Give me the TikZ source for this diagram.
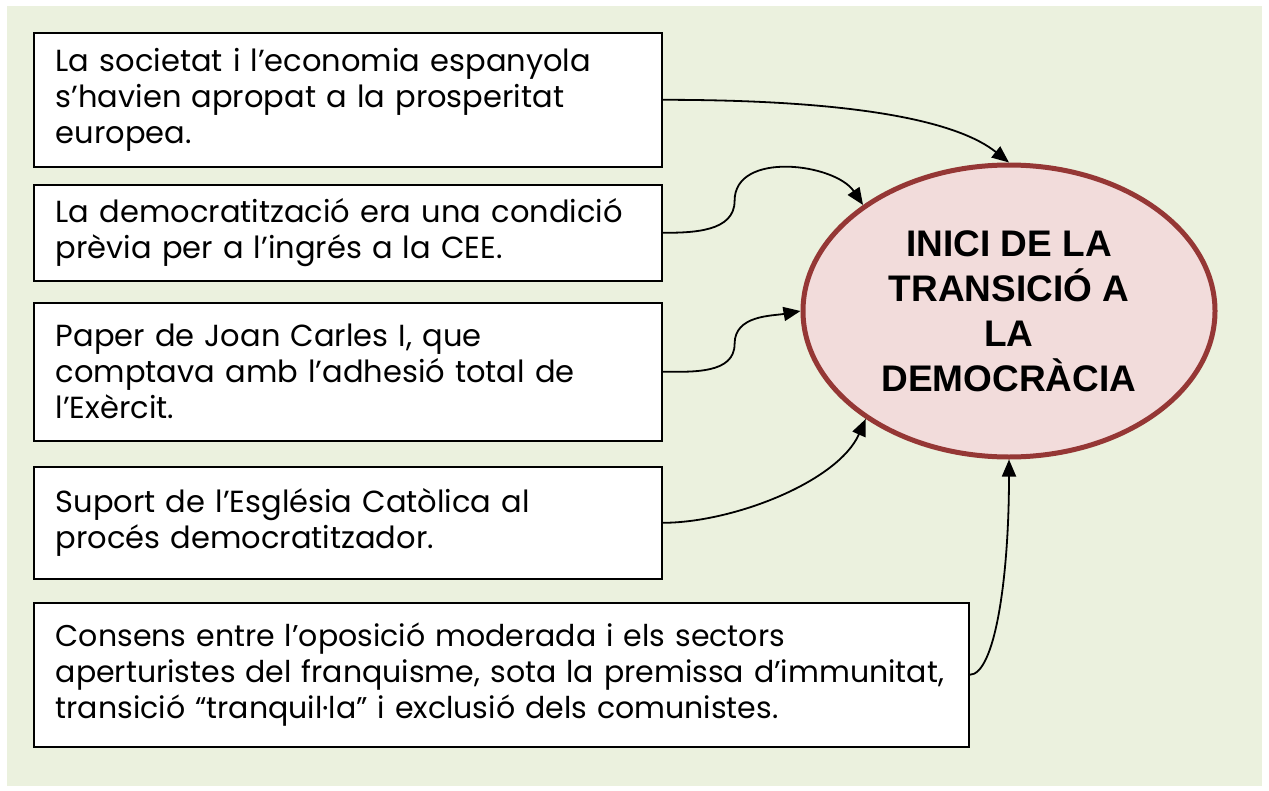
\documentclass[tikz,border=0pt]{standalone}
\usepackage{fontspec}
\setmainfont{Poppins}
\newfontfamily\headfont{Liberation Sans}
\usetikzlibrary{shapes.geometric,arrows.meta}

\definecolor{bggreen}{HTML}{EBF1DE}
\definecolor{goalfill}{HTML}{F2DCDB}
\definecolor{goaldraw}{HTML}{953735}

\begin{document}
\begin{tikzpicture}[x=1pt,y=1pt,
  cause/.style={draw=black,line width=1.6pt,fill=white,anchor=north west,
    inner xsep=22pt,inner ysep=0pt,align=left,
    font=\fontsize{30.5}{36}\selectfont},
  link/.style={draw=black,line width=1.8pt,-{Triangle[length=17pt,width=14pt]}}]
\useasboundingbox (0,0) rectangle (1269,-790);
\fill [bggreen] (7,-6) rectangle (1262,-786);
% the causes
\node [cause,text width=584pt,minimum height=134pt] (soc) at (33,-32)
  {La societat i l’economia espanyola\\s’havien apropat a la prosperitat\\europea.};
\node [cause,text width=584pt,minimum height=96pt] (cee) at (33,-184)
  {La democratització era una condició\\prèvia per a l’ingrés a la CEE.};
\node [cause,text width=584pt,minimum height=138pt] (rei) at (33,-302)
  {Paper de Joan Carles I, que\\comptava amb l’adhesió total de\\l’Exèrcit.};
\node [cause,text width=584pt,minimum height=112pt] (esg) at (33,-466)
  {Suport de l’Església Catòlica al\\procés democratitzador.};
\node [cause,text width=891pt,minimum height=144pt,font=\fontsize{30}{36}\selectfont] (cons) at (33,-602)
  {Consens entre l’oposició moderada i els sectors\\aperturistes del franquisme, sota la premissa d’immunitat,\\transició “tranquil·la” i exclusió dels comunistes.};
% the result
\node [ellipse,draw=goaldraw,fill=goalfill,line width=5pt,
  minimum width=412pt,minimum height=292pt,inner sep=0pt,align=center,
  font=\headfont\bfseries\fontsize{37}{45}\selectfont] (goal) at (1009,-311)
  {INICI DE LA\\TRANSICIÓ A\\LA\\DEMOCRÀCIA};
% arrows
\draw [link] (soc.east) .. controls +(200,0) and +(-50,40) .. (goal.north);
\draw [link] (cee.east) to[out=0,in=-90] ++(72,32) to[out=90,in=124] (goal.144);
\draw [link] (rei.east) to[out=0,in=-90] ++(72,28) to[out=90,in=190] (goal.west);
\draw [link] (esg.east) .. controls +(70,0) and +(-28,-63) .. (goal.217);
\draw [link] (cons.east) .. controls +(25,0) and +(0,-120) .. (goal.south);
\end{tikzpicture}
\end{document}
